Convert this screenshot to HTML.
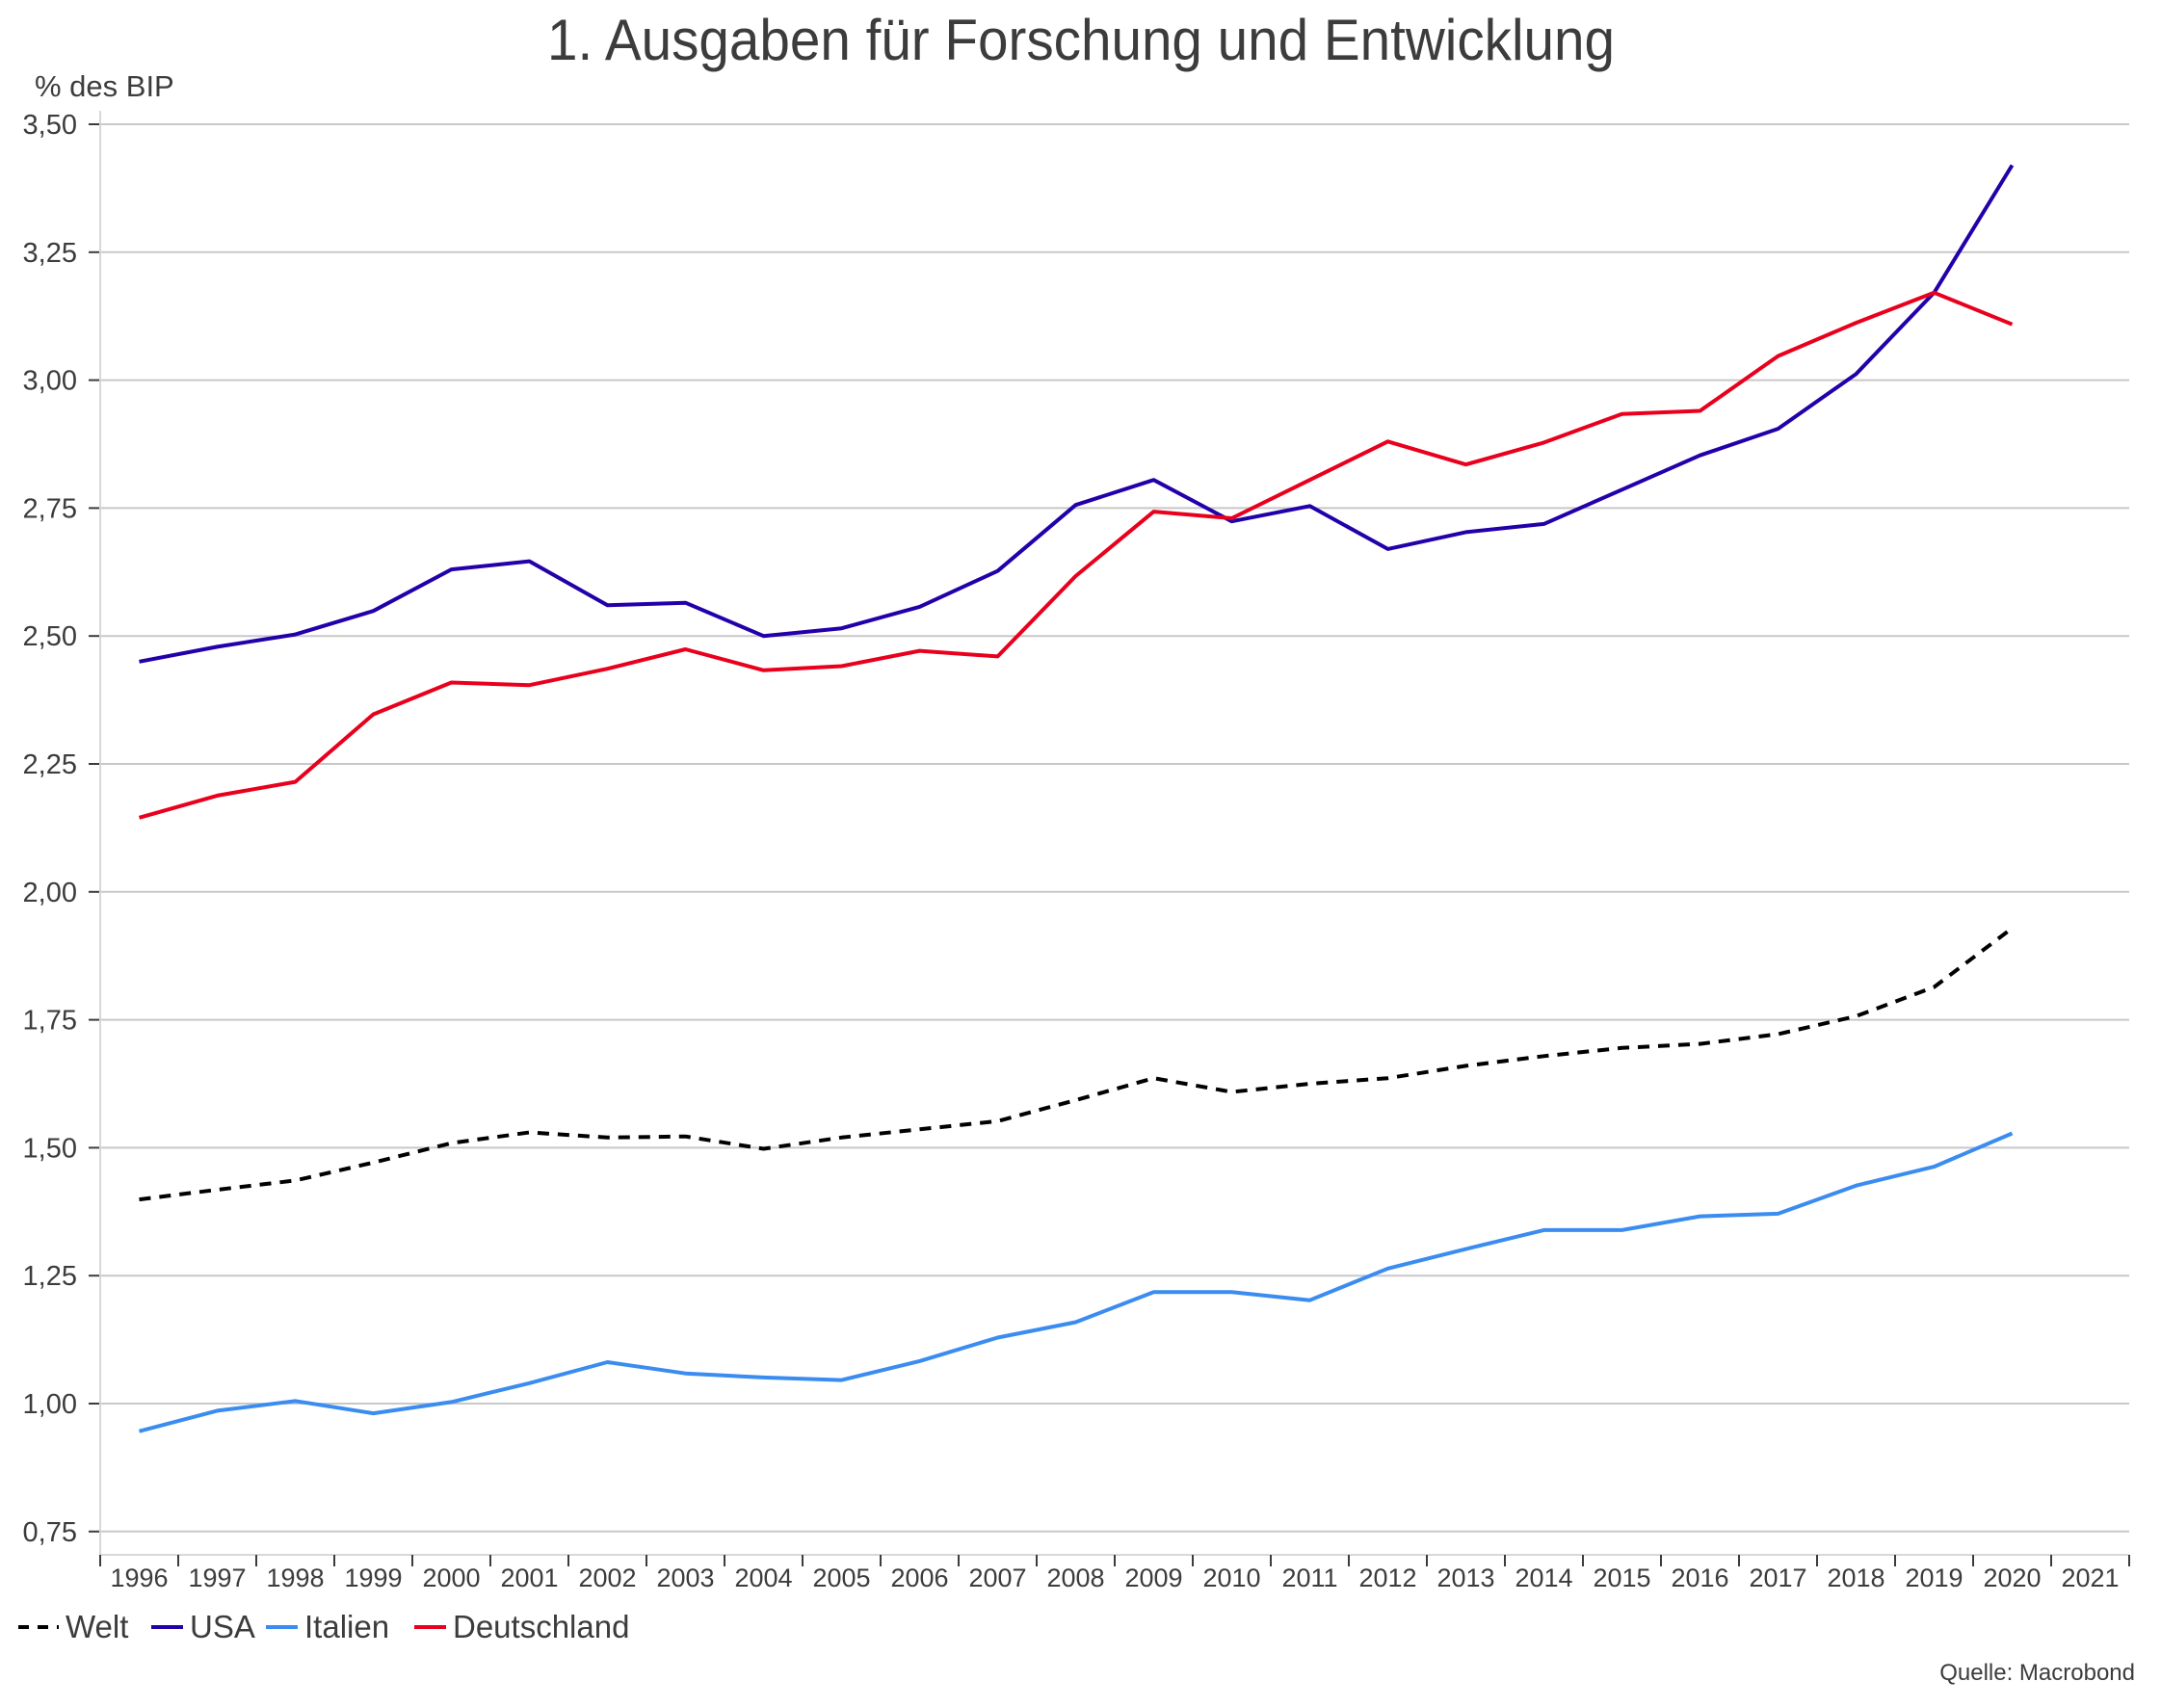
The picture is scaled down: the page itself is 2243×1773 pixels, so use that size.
<!DOCTYPE html>
<html><head><meta charset="utf-8"><style>
html,body{margin:0;padding:0;background:#fff;}
svg{display:block;}
text{font-family:"Liberation Sans Narrow","Liberation Sans",sans-serif;fill:#3c3c3c;}
</style></head><body>
<svg id="chart" width="2243" height="1773" viewBox="0 0 2243 1773" xmlns="http://www.w3.org/2000/svg">
<text x="1122" y="62" font-size="60" text-anchor="middle" textLength="1108" lengthAdjust="spacingAndGlyphs">1. Ausgaben für Forschung und Entwicklung</text>
<text x="36" y="100" font-size="31">% des BIP</text>
<g id="grid"></g>
<g id="yticks"></g>
<g id="xticks"></g>
<g id="series"></g>
<g>
<g><line x1="19" y1="1689" x2="61" y2="1689" stroke="#000" stroke-width="4" stroke-dasharray="11,9"/><text x="68" y="1700" font-size="33">Welt</text></g>
<g><line x1="157" y1="1689" x2="190" y2="1689" stroke="#2200aa" stroke-width="4"/><text x="197" y="1700" font-size="33">USA</text></g>
<g><line x1="276" y1="1689" x2="309" y2="1689" stroke="#3b8cf0" stroke-width="4"/><text x="316" y="1700" font-size="33">Italien</text></g>
<g><line x1="430" y1="1689" x2="463" y2="1689" stroke="#e8001c" stroke-width="4"/><text x="470" y="1700" font-size="33">Deutschland</text></g>
</g>
<text x="2216" y="1744" font-size="24" text-anchor="end" style="font-family:'Liberation Sans',sans-serif">Quelle: Macrobond</text>
</svg>
<script>
const years = [1996,1997,1998,1999,2000,2001,2002,2003,2004,2005,2006,2007,2008,2009,2010,2011,2012,2013,2014,2015,2016,2017,2018,2019,2020];
const axisYears = [1996,1997,1998,1999,2000,2001,2002,2003,2004,2005,2006,2007,2008,2009,2010,2011,2012,2013,2014,2015,2016,2017,2018,2019,2020,2021];
const yTicks = [0.75,1.00,1.25,1.50,1.75,2.00,2.25,2.50,2.75,3.00,3.25,3.50];
const usa = [2.45,2.479,2.503,2.549,2.63,2.646,2.56,2.565,2.50,2.515,2.557,2.627,2.756,2.805,2.724,2.754,2.67,2.703,2.719,2.786,2.853,2.905,3.012,3.171,3.42];
const deutschland = [2.145,2.188,2.215,2.347,2.409,2.404,2.436,2.474,2.433,2.441,2.471,2.46,2.617,2.743,2.73,2.805,2.88,2.835,2.878,2.934,2.94,3.047,3.112,3.171,3.109];
const welt = [1.399,1.418,1.436,1.471,1.509,1.53,1.52,1.522,1.498,1.52,1.536,1.552,1.593,1.636,1.609,1.625,1.636,1.66,1.679,1.695,1.703,1.722,1.757,1.814,1.929];
const italien = [0.946,0.986,1.005,0.981,1.003,1.04,1.081,1.059,1.051,1.046,1.083,1.129,1.159,1.218,1.218,1.202,1.264,1.302,1.339,1.339,1.366,1.371,1.426,1.463,1.528];

const NS = "http://www.w3.org/2000/svg";
const X0 = 104, X1 = 2210, Y0 = 129, YB = 1614;
const step = (X1 - X0) / axisYears.length;
function xPos(year){ return X0 + (year - axisYears[0] + 0.5) * step; }
function yPos(v){ return Y0 + (3.5 - v) * 531.2; }
function mk(tag, attrs, parent){ const e = document.createElementNS(NS, tag); for (const k in attrs) e.setAttribute(k, attrs[k]); parent.appendChild(e); return e; }

const grid = document.getElementById('grid');
const yt = document.getElementById('yticks');
yTicks.forEach(v => {
  const y = yPos(v);
  const g = mk('line', {x1:X0, y1:y, x2:X1, y2:y, stroke:'#c8c8c8', 'stroke-width':2}, grid);
  
  
  const t = mk('line', {x1:92, y1:y, x2:X0, y2:y, stroke:'#3c3c3c', 'stroke-width':2}, yt);
  
  
  const l = mk('text', {x:80, y:y+10, 'font-size':29, 'text-anchor':'end'}, yt);
  l.textContent = v.toFixed(2).replace('.', ',');
  
  
});
const yaxis = mk('line', {x1:X0, y1:115, x2:X0, y2:YB, stroke:'#d8d8d8', 'stroke-width':2}, yt);



const xt = document.getElementById('xticks');
const xaxis = mk('line', {x1:X0, y1:YB, x2:X1, y2:YB, stroke:'#d8d8d8', 'stroke-width':2}, xt);


for (let i = 0; i <= axisYears.length; i++) {
  const x = X0 + i * step;
  const t = mk('line', {x1:x, y1:YB, x2:x, y2:YB+12, stroke:'#3c3c3c', 'stroke-width':2}, xt);
  
  
}
axisYears.forEach(yr => {
  const l = mk('text', {x:xPos(yr), y:1647, 'font-size':27, 'text-anchor':'middle', style:"font-family:'Liberation Sans',sans-serif"}, xt);
  l.textContent = yr;
  
  
});

const ser = document.getElementById('series');
function drawLine(vals, color, dash, name){
  const pts = vals.map((v,i) => xPos(years[i]).toFixed(1) + ',' + yPos(v).toFixed(1)).join(' ');
  const attrs = {points:pts, fill:'none', stroke:color, 'stroke-width':4, 'stroke-linejoin':'round'};
  if (dash) attrs['stroke-dasharray'] = dash;
  const p = mk('polyline', attrs, ser);
  
  
}
drawLine(italien, '#3b8cf0', null, 'line-italien');
drawLine(welt, '#000000', '12,9', 'line-welt');
drawLine(usa, '#2200aa', null, 'line-usa');
drawLine(deutschland, '#e8001c', null, 'line-deutschland');
</script>
</body></html>
